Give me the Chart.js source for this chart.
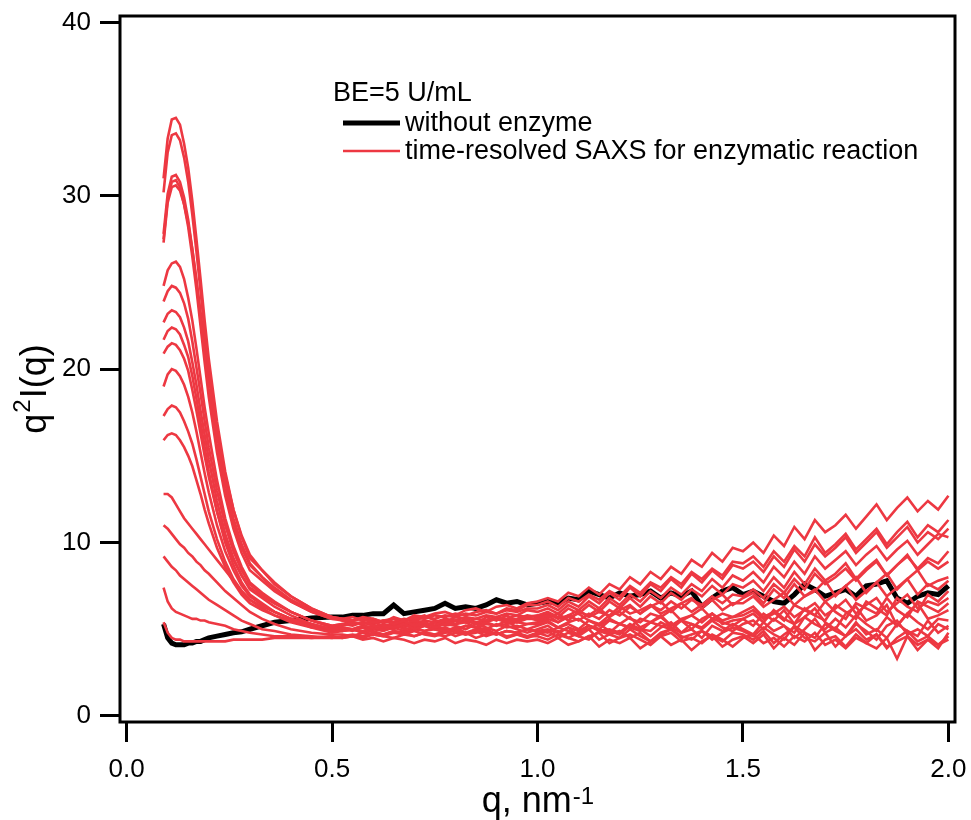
<!DOCTYPE html>
<html lang="en">

<head>
    <meta charset="UTF-8">
    <title>q2I(q) time-resolved SAXS</title>
    <script src="https://cdn.jsdelivr.net/npm/chart.js@4.4.1/dist/chart.umd.min.js"></script>
    <style>
        body {
            margin: 0;
            background: #fff;
        }
    </style>
</head>

<body>
    <canvas id="saxsChart" width="971" height="820"></canvas>
    <script>
        // q grid (nm^-1), dense around the peak
        const qValues = [0.09, 0.10, 0.11, 0.12, 0.13, 0.14, 0.15, 0.16, 0.17, 0.18, 0.19, 0.20, 0.22, 0.24, 0.26, 0.28, 0.30, 0.33, 0.36, 0.40, 0.45, 0.50,
            0.525, 0.55, 0.575, 0.6, 0.625, 0.65, 0.675, 0.7, 0.725, 0.75, 0.775, 0.8, 0.825, 0.85, 0.875, 0.9, 0.925, 0.95, 0.975, 1.0,
            1.025, 1.05, 1.075, 1.1, 1.125, 1.15, 1.175, 1.2, 1.225, 1.25, 1.275, 1.3, 1.325, 1.35, 1.375, 1.4, 1.425, 1.45, 1.475, 1.5,
            1.525, 1.55, 1.575, 1.6, 1.625, 1.65, 1.675, 1.7, 1.725, 1.75, 1.775, 1.8, 1.825, 1.85, 1.875, 1.9, 1.925, 1.95, 1.975, 2.0];

        // without enzyme
        const noEnzyme = [5.3, 4.5, 4.2, 4.1, 4.1, 4.1, 4.2, 4.2, 4.3, 4.3, 4.4, 4.5, 4.6, 4.7, 4.8, 4.85, 5.0, 5.2, 5.4, 5.5, 5.65, 5.7,
            5.7, 5.8, 5.8, 5.9, 5.9, 6.4, 5.9, 6.0, 6.1, 6.2, 6.5, 6.2, 6.3, 6.2, 6.4, 6.7, 6.5, 6.6, 6.4, 6.5,
            6.6, 6.5, 6.8, 6.7, 7.2, 7.0, 6.8, 7.1, 6.9, 7.0, 7.2, 6.8, 7.1, 6.9, 7.2, 6.3, 6.8, 7.2, 7.4, 7.0,
            7.2, 6.9, 6.6, 6.5, 7.0, 7.6, 7.3, 6.9, 7.1, 7.3, 6.9, 7.5, 7.6, 7.8, 6.8, 6.5, 6.9, 7.1, 7.0, 7.5];

        // time-resolved SAXS during the enzymatic reaction
        const t01 = [31.0, 33.3, 34.4, 34.5, 34.1, 33.0, 31.6, 29.7, 27.5, 25.2, 22.8, 20.6, 17.0, 14.1, 11.9, 10.3, 9.1, 8.4, 7.6, 6.9, 6.2, 5.7,
            5.6, 5.5, 5.6, 5.4, 5.5, 5.3, 5.5, 5.2, 5.4, 5.1, 5.3, 5.2, 5.0, 5.3, 5.1, 4.9, 5.2, 5.0, 4.8, 5.0,
            5.2, 4.8, 5.1, 4.6, 5.0, 5.3, 4.9, 4.7, 5.2, 5.0, 4.6, 5.1, 5.4, 4.8, 5.0, 4.5, 5.2, 4.9, 5.3, 5.0,
            4.7, 5.4, 4.9, 5.2, 4.5, 5.0, 5.6, 4.8, 5.1, 4.6, 5.3, 4.9, 4.4, 5.2, 5.5, 4.7, 5.0, 4.6, 5.3, 5.0];
        const t02 = [30.2, 32.5, 33.5, 33.6, 33.2, 32.2, 30.8, 28.9, 26.8, 24.5, 22.2, 20.0, 16.3, 13.5, 11.4, 9.9, 8.8, 8.0, 7.3, 6.6, 6.0, 5.6,
            5.5, 5.4, 5.3, 5.4, 5.2, 5.1, 5.3, 5.0, 5.2, 5.0, 4.9, 5.1, 4.8, 5.0, 4.9, 4.7, 4.9, 4.8, 4.6, 4.8,
            4.6, 4.9, 4.5, 4.8, 5.0, 4.4, 4.7, 4.9, 4.5, 4.8, 4.3, 4.7, 5.0, 4.6, 4.4, 4.9, 4.6, 4.3, 4.8, 4.7,
            4.4, 4.9, 4.2, 4.7, 5.1, 4.5, 4.3, 4.8, 4.0, 4.6, 5.0, 4.4, 4.7, 3.9, 4.5, 4.9, 4.3, 4.6, 4.1, 4.6];
        const t03 = [27.8, 30.1, 31.1, 31.2, 30.8, 29.9, 28.6, 26.9, 25.0, 22.9, 20.8, 18.9, 15.7, 13.1, 11.1, 9.7, 8.7, 8.0, 7.4, 6.7, 6.1, 5.7,
            5.6, 5.7, 5.5, 5.6, 5.4, 5.6, 5.3, 5.5, 5.4, 5.2, 5.5, 5.3, 5.4, 5.1, 5.4, 5.2, 5.5, 5.1, 5.3, 5.3,
            5.5, 5.1, 5.4, 5.6, 5.2, 5.0, 5.5, 5.3, 5.7, 5.1, 5.4, 5.8, 5.2, 5.5, 5.0, 5.6, 5.9, 5.3, 5.5, 5.6,
            5.2, 5.9, 5.5, 6.1, 5.3, 5.7, 6.2, 5.4, 5.0, 5.9, 6.3, 5.5, 5.8, 6.4, 5.2, 5.9, 6.5, 5.6, 5.8, 6.1];
        const t04 = [27.5, 29.8, 30.8, 30.9, 30.5, 29.5, 28.2, 26.5, 24.6, 22.5, 20.4, 18.4, 15.2, 12.7, 10.8, 9.4, 8.4, 7.8, 7.2, 6.6, 6.0, 5.6,
            5.6, 5.5, 5.7, 5.6, 5.4, 5.7, 5.5, 5.6, 5.8, 5.5, 5.4, 5.7, 5.6, 5.3, 5.7, 5.5, 5.8, 5.4, 5.6, 5.6,
            5.8, 5.4, 5.7, 5.9, 5.5, 5.3, 5.8, 6.0, 5.6, 5.4, 5.9, 5.7, 6.1, 5.5, 5.8, 6.2, 5.6, 5.9, 5.7, 6.0,
            6.3, 5.7, 6.0, 5.5, 6.4, 6.1, 5.8, 6.6, 6.0, 5.6, 6.5, 6.2, 5.9, 6.8, 6.1, 5.7, 6.6, 6.3, 6.0, 6.5];
        const t05 = [27.3, 29.6, 30.5, 30.6, 30.3, 29.5, 28.4, 26.9, 25.2, 23.3, 21.4, 19.6, 16.5, 13.9, 11.9, 10.4, 9.3, 8.4, 7.7, 6.9, 6.2, 5.7,
            5.5, 5.3, 5.4, 5.2, 5.1, 5.3, 5.0, 5.1, 4.9, 5.0, 4.8, 5.0, 4.7, 4.9, 4.6, 4.8, 4.5, 4.7, 4.6, 4.6,
            4.4, 4.7, 4.5, 4.3, 4.6, 4.8, 4.2, 4.5, 4.7, 4.4, 4.1, 4.6, 4.8, 4.3, 4.5, 4.2, 4.7, 4.4, 4.0, 4.5,
            4.7, 4.2, 4.5, 4.0, 4.6, 4.3, 4.8, 4.1, 4.4, 3.9, 4.5, 4.2, 4.7, 4.0, 4.3, 4.6, 3.8, 4.4, 4.1, 4.4];
        const t06 = [24.8, 25.7, 26.1, 26.2, 25.9, 25.2, 24.1, 22.8, 21.2, 19.5, 17.8, 16.3, 13.6, 11.4, 9.8, 8.6, 7.7, 7.1, 6.6, 6.0, 5.5, 5.2,
            5.3, 5.4, 5.3, 5.5, 5.4, 5.6, 5.5, 5.7, 5.6, 5.8, 5.7, 5.9, 5.8, 6.0, 6.1, 5.9, 6.2, 6.1, 6.4, 6.4,
            6.6, 6.3, 6.8, 6.6, 7.0, 6.7, 7.2, 6.9, 7.5, 7.1, 7.7, 7.4, 8.0, 7.6, 8.3, 7.9, 8.5, 8.1, 8.9, 8.8,
            9.2, 8.6, 9.5, 8.9, 9.8, 9.2, 10.3, 9.4, 9.9, 10.5, 9.6, 10.2, 10.8, 9.9, 10.6, 11.2, 10.3, 11.0, 10.6, 11.3];
        const t07 = [23.9, 24.5, 24.8, 24.7, 24.4, 23.8, 22.9, 21.6, 20.1, 18.6, 17.0, 15.5, 13.0, 11.0, 9.5, 8.4, 7.6, 7.0, 6.5, 6.0, 5.5, 5.1,
            5.2, 5.3, 5.4, 5.3, 5.5, 5.6, 5.5, 5.8, 5.7, 5.9, 6.0, 5.8, 6.1, 6.2, 6.0, 6.3, 6.4, 6.2, 6.5, 6.6,
            6.8, 6.6, 7.1, 6.9, 7.4, 7.0, 7.6, 7.3, 8.0, 7.6, 8.3, 7.9, 8.6, 8.2, 9.0, 8.6, 9.4, 8.9, 9.7, 9.5,
            10.0, 9.4, 10.4, 9.8, 10.9, 10.2, 11.3, 10.6, 11.0, 11.6, 10.8, 11.5, 12.2, 11.3, 12.0, 12.6, 11.8, 12.4, 11.9, 12.7];
        const t08 = [22.7, 23.2, 23.4, 23.3, 23.0, 22.4, 21.6, 20.4, 19.1, 17.6, 16.2, 14.8, 12.4, 10.5, 9.1, 8.1, 7.3, 6.8, 6.3, 5.8, 5.3, 5.0,
            5.1, 5.0, 5.2, 5.1, 5.3, 5.2, 5.4, 5.3, 5.5, 5.4, 5.6, 5.5, 5.7, 5.6, 5.8, 5.7, 5.9, 5.8, 6.1, 6.0,
            6.2, 5.9, 6.4, 6.1, 6.6, 6.2, 6.8, 6.4, 7.0, 6.6, 7.2, 6.8, 7.4, 7.0, 7.6, 7.2, 7.9, 7.4, 8.1, 7.8,
            8.3, 7.7, 8.6, 8.0, 8.9, 8.2, 9.2, 8.5, 9.0, 9.5, 8.7, 9.3, 9.8, 9.0, 9.6, 10.1, 9.3, 9.9, 10.5, 10.3];
        const t09 = [21.7, 22.2, 22.4, 22.3, 22.0, 21.4, 20.7, 19.6, 18.3, 16.9, 15.5, 14.1, 11.8, 10.0, 8.7, 7.7, 7.0, 6.5, 6.0, 5.6, 5.1, 4.8,
            4.9, 5.0, 4.9, 5.1, 5.0, 5.2, 5.1, 5.3, 5.2, 5.4, 5.3, 5.5, 5.4, 5.6, 5.5, 5.7, 5.6, 5.8, 5.7, 5.8,
            6.0, 5.7, 6.2, 5.9, 6.4, 6.0, 6.6, 6.2, 6.8, 6.3, 6.9, 6.5, 7.1, 6.7, 7.3, 6.9, 7.5, 7.0, 7.6, 7.4,
            7.8, 7.2, 8.0, 7.4, 8.3, 7.6, 8.5, 7.8, 8.2, 8.8, 7.9, 8.5, 9.0, 8.1, 8.7, 9.3, 8.4, 8.9, 8.5, 8.9];
        const t10 = [20.9, 21.3, 21.5, 21.4, 21.1, 20.6, 19.9, 18.8, 17.6, 16.3, 15.0, 13.8, 11.8, 10.2, 9.0, 8.1, 7.4, 6.9, 6.5, 6.0, 5.5, 5.2,
            5.3, 5.2, 5.4, 5.3, 5.5, 5.4, 5.6, 5.5, 5.7, 5.6, 5.8, 5.7, 5.9, 5.8, 6.0, 5.9, 6.1, 6.0, 6.2, 6.2,
            6.4, 6.1, 6.6, 6.3, 6.9, 6.5, 7.1, 6.7, 7.4, 6.9, 7.6, 7.2, 7.9, 7.4, 8.2, 7.7, 8.4, 7.9, 8.7, 8.5,
            8.9, 8.3, 9.2, 8.6, 9.6, 8.9, 9.9, 9.2, 9.7, 10.3, 9.4, 10.0, 10.6, 9.7, 10.3, 10.9, 10.0, 10.6, 10.2, 10.8];
        const t11 = [19.0, 19.7, 20.0, 19.9, 19.6, 19.1, 18.4, 17.5, 16.4, 15.2, 14.0, 12.9, 11.0, 9.5, 8.4, 7.5, 6.9, 6.4, 6.0, 5.6, 5.2, 4.9,
            5.0, 4.9, 5.1, 5.0, 5.2, 5.0, 5.3, 5.1, 5.2, 5.4, 5.2, 5.3, 5.5, 5.3, 5.4, 5.6, 5.4, 5.5, 5.7, 5.5,
            5.7, 5.9, 5.5, 6.0, 5.8, 6.2, 5.7, 6.1, 6.4, 5.9, 6.3, 6.6, 6.0, 6.5, 6.8, 6.2, 6.7, 7.0, 6.4, 6.8,
            7.1, 6.5, 7.3, 6.8, 7.6, 6.9, 7.2, 7.8, 6.9, 7.5, 8.0, 7.1, 7.7, 8.2, 7.3, 7.9, 8.4, 7.5, 7.8, 8.0];
        const t12 = [17.3, 17.7, 17.9, 17.8, 17.5, 17.0, 16.4, 15.7, 14.8, 13.8, 12.8, 11.8, 10.2, 8.9, 7.9, 7.2, 6.7, 6.3, 6.0, 5.6, 5.3, 5.0,
            5.1, 5.0, 5.2, 5.1, 5.0, 5.3, 5.2, 5.4, 5.3, 5.2, 5.5, 5.3, 5.6, 5.4, 5.5, 5.7, 5.5, 5.6, 5.8, 5.7,
            5.9, 5.6, 5.8, 6.1, 5.7, 6.0, 5.8, 6.3, 5.9, 6.1, 6.4, 5.9, 6.2, 6.5, 6.0, 6.4, 6.7, 6.1, 6.5, 6.5,
            6.9, 6.3, 6.7, 7.1, 6.4, 6.9, 7.3, 6.6, 7.0, 7.5, 6.7, 7.2, 7.7, 6.9, 7.4, 7.9, 7.0, 7.6, 7.3, 7.8];
        const t13 = [15.9, 16.2, 16.3, 16.2, 15.9, 15.5, 15.0, 14.4, 13.6, 12.8, 11.9, 11.1, 9.7, 8.6, 7.7, 7.0, 6.5, 6.1, 5.8, 5.5, 5.2, 4.9,
            4.9, 5.0, 4.8, 5.0, 4.9, 5.1, 4.9, 5.0, 5.2, 5.0, 5.1, 4.9, 5.2, 5.1, 5.0, 5.3, 5.1, 5.2, 5.0, 5.2,
            5.4, 5.1, 5.3, 5.0, 5.5, 5.2, 5.6, 5.3, 5.1, 5.6, 5.4, 5.7, 5.2, 5.6, 5.8, 5.4, 5.9, 5.5, 5.7, 5.8,
            6.1, 5.6, 5.9, 6.3, 5.7, 6.1, 6.5, 5.8, 6.2, 6.7, 5.9, 6.4, 6.8, 6.0, 6.5, 7.0, 6.2, 6.6, 6.4, 6.8];
        const t14 = [12.8, 12.8, 12.6, 12.2, 11.8, 11.4, 11.1, 10.8, 10.5, 10.2, 9.9, 9.6, 9.0, 8.4, 7.8, 7.2, 6.7, 6.2, 5.8, 5.4, 5.1, 5.0,
            4.9, 5.0, 4.8, 4.9, 4.7, 4.9, 4.8, 4.6, 4.8, 4.7, 4.9, 4.6, 4.8, 4.5, 4.7, 4.8, 4.6, 4.7, 4.5, 4.7,
            4.9, 4.5, 4.8, 4.6, 4.4, 4.9, 4.7, 4.5, 5.0, 4.6, 4.3, 4.8, 5.0, 4.5, 4.7, 4.9, 4.4, 4.8, 5.1, 4.9,
            4.6, 5.1, 4.7, 4.4, 5.2, 4.8, 4.5, 5.3, 4.9, 4.6, 5.4, 4.7, 5.0, 4.5, 5.3, 4.9, 4.6, 5.5, 4.8, 5.2];
        const t15 = [11.0, 10.8, 10.5, 10.2, 9.9, 9.7, 9.4, 9.2, 8.9, 8.7, 8.4, 8.2, 7.7, 7.2, 6.8, 6.4, 6.0, 5.6, 5.3, 5.0, 4.8, 4.7,
            4.7, 4.6, 4.8, 4.7, 4.6, 4.8, 4.7, 4.9, 4.7, 4.6, 4.8, 4.9, 4.7, 4.8, 5.0, 4.7, 4.9, 4.8, 5.0, 4.9,
            4.8, 5.1, 4.9, 4.7, 5.2, 4.9, 5.0, 4.8, 5.3, 5.0, 4.9, 5.4, 5.1, 4.8, 5.3, 5.0, 5.5, 5.1, 4.9, 5.3,
            5.5, 5.0, 5.6, 5.2, 4.8, 5.7, 5.3, 5.0, 5.6, 5.1, 5.8, 5.3, 4.9, 5.7, 5.2, 5.9, 5.4, 5.0, 5.6, 5.5];
        const t16 = [9.2, 8.9, 8.6, 8.4, 8.1, 7.9, 7.7, 7.5, 7.3, 7.1, 6.9, 6.7, 6.4, 6.1, 5.8, 5.5, 5.3, 5.0, 4.9, 4.7, 4.6, 4.5,
            4.6, 4.7, 4.6, 4.8, 4.7, 4.9, 4.8, 5.0, 4.9, 5.1, 5.0, 5.0, 5.2, 5.1, 5.3, 5.2, 5.3, 5.4, 5.3, 5.4,
            5.6, 5.4, 5.8, 5.5, 5.9, 5.6, 6.1, 5.8, 6.3, 5.9, 6.4, 6.1, 6.6, 6.2, 6.7, 6.4, 6.9, 6.5, 7.0, 6.9,
            7.3, 6.8, 7.6, 7.1, 7.9, 7.3, 8.2, 7.6, 8.0, 8.5, 7.8, 8.4, 8.9, 8.1, 8.7, 9.2, 8.5, 9.1, 8.8, 9.5];
        const t17 = [7.4, 6.6, 6.2, 6.0, 5.9, 5.8, 5.7, 5.6, 5.6, 5.5, 5.5, 5.4, 5.3, 5.2, 5.0, 4.9, 4.8, 4.7, 4.6, 4.6, 4.5, 4.5,
            4.5, 4.6, 4.5, 4.7, 4.6, 4.5, 4.7, 4.6, 4.8, 4.7, 4.6, 4.8, 4.7, 4.9, 4.8, 4.7, 4.9, 4.8, 5.0, 4.9,
            5.0, 4.8, 5.1, 4.9, 5.2, 5.0, 4.8, 5.3, 5.1, 4.9, 5.4, 5.2, 5.0, 5.5, 5.3, 5.1, 5.6, 5.4, 5.2, 5.6,
            5.9, 5.4, 6.1, 5.6, 5.3, 6.2, 5.8, 5.5, 6.4, 6.0, 5.6, 6.6, 6.2, 5.8, 6.8, 6.3, 6.0, 7.0, 6.6, 7.2];
        const t18 = [5.4, 4.8, 4.5, 4.4, 4.4, 4.3, 4.3, 4.3, 4.3, 4.3, 4.3, 4.3, 4.3, 4.3, 4.4, 4.4, 4.4, 4.4, 4.5, 4.5, 4.5, 4.6,
            4.5, 4.6, 4.4, 4.5, 4.3, 4.5, 4.4, 4.2, 4.4, 4.3, 4.5, 4.2, 4.4, 4.3, 4.1, 4.4, 4.2, 4.4, 4.3, 4.4,
            4.2, 4.5, 4.1, 4.3, 4.6, 4.0, 4.4, 4.2, 4.5, 3.9, 4.3, 4.6, 4.1, 4.4, 3.8, 4.3, 4.6, 4.0, 4.4, 4.6,
            4.2, 4.7, 3.9, 4.5, 4.1, 4.8, 3.8, 4.4, 4.6, 4.0, 4.7, 4.2, 3.9, 4.5, 3.3, 4.6, 4.1, 4.4, 3.9, 4.8];

        const reactionSeries = [t01, t02, t03, t04, t05, t06, t07, t08, t09, t10, t11, t12, t13, t14, t15, t16, t17, t18];

        const xTicks = [0.0, 0.5, 1.0, 1.5, 2.0];
        const yTicks = [0, 10, 20, 30, 40];

        const RED = 'rgb(237, 56, 66)';
        const FONT = '"Liberation Sans", Arial, sans-serif';

        const toPoints = values => values.map((v, i) => ({ x: qValues[i], y: v }));

        // red series first in the list draw on top of the black one
        const datasets = reactionSeries.map((s, i) => ({
            label: i === 0 ? 'time-resolved SAXS for enzymatic reaction' : '',
            data: toPoints(s),
            borderColor: RED,
            borderWidth: 2.6,
            pointRadius: 0,
            tension: 0
        }));
        datasets.push({
            label: 'without enzyme',
            data: toPoints(noEnzyme),
            borderColor: '#000',
            borderWidth: 5,
            pointRadius: 0,
            tension: 0
        });

        // frame, axis titles and the in-plot legend
        const decorations = {
            id: 'decorations',
            afterDraw(chart) {
                const { ctx, chartArea: a } = chart;
                ctx.save();
                ctx.strokeStyle = '#000';
                ctx.lineWidth = 3;
                ctx.strokeRect(a.left, a.top, a.right - a.left, a.bottom - a.top);

                ctx.fillStyle = '#000';
                ctx.textBaseline = 'alphabetic';

                // x title: q, nm^-1
                const big = '36px ' + FONT, small = '24px ' + FONT;
                ctx.font = big;
                const w1 = ctx.measureText('q, nm').width;
                ctx.font = small;
                const w2 = ctx.measureText('-1').width;
                let x0 = (a.left + a.right) / 2 - (w1 + w2) / 2;
                ctx.font = big;
                ctx.fillText('q, nm', x0, 812);
                ctx.font = small;
                ctx.fillText('-1', x0 + w1 + 1, 804);

                // y title: q^2 I(q)
                ctx.save();
                ctx.translate(46, 390);
                ctx.rotate(-Math.PI / 2);
                ctx.font = big;
                const wq = ctx.measureText('q').width;
                const wi = ctx.measureText('I(q)').width;
                ctx.font = small;
                const w2s = ctx.measureText('2').width;
                let s = -(wq + w2s + wi) / 2;
                ctx.font = big;
                ctx.fillText('q', s, 0);
                ctx.font = small;
                ctx.fillText('2', s + wq + 1, -16);
                ctx.font = big;
                ctx.fillText('I(q)', s + wq + w2s + 2, 0);
                ctx.restore();

                // legend
                ctx.font = '27px ' + FONT;
                ctx.textBaseline = 'middle';
                ctx.fillText('BE=5 U/mL', 333, 94);
                ctx.lineCap = 'butt';
                ctx.strokeStyle = '#000';
                ctx.lineWidth = 5;
                ctx.beginPath();
                ctx.moveTo(343, 123);
                ctx.lineTo(400, 123);
                ctx.stroke();
                ctx.fillText('without enzyme', 405, 124);
                ctx.strokeStyle = RED;
                ctx.lineWidth = 2.6;
                ctx.beginPath();
                ctx.moveTo(343, 151);
                ctx.lineTo(400, 151);
                ctx.stroke();
                ctx.fillText('time-resolved SAXS for enzymatic reaction', 405, 152);
                ctx.restore();
            }
        };

        const axisCommon = {
            type: 'linear',
            border: { display: false },
            grid: {
                drawOnChartArea: false,
                drawTicks: true,
                tickLength: 20,
                tickWidth: 3,
                tickColor: '#000'
            }
        };

        // fixed axis box sizes, and no extra room for labels hanging past the ends
        const fixSize = (prop, size) => scale => {
            scale[prop] = size;
            scale.paddingLeft = 0;
            scale.paddingRight = 0;
            scale.paddingTop = 0;
            scale.paddingBottom = 0;
        };

        const config = {
            type: 'line',
            data: { datasets },
            options: {
                responsive: false,
                animation: false,
                devicePixelRatio: 1,
                layout: { padding: { left: 0, top: 16, right: 16, bottom: 0 } },
                plugins: {
                    legend: { display: false },
                    tooltip: { enabled: false }
                },
                scales: {
                    x: {
                        ...axisCommon,
                        min: -0.016,
                        max: 2.016,
                        afterFit: fixSize('height', 98),
                        afterBuildTicks: scale => { scale.ticks = xTicks.map(v => ({ value: v })); },
                        ticks: {
                            color: '#000',
                            font: { family: FONT, size: 26 },
                            padding: 12,
                            maxRotation: 0,
                            callback: v => Number(v).toFixed(1)
                        }
                    },
                    y: {
                        ...axisCommon,
                        min: -0.35,
                        max: 40.37,
                        afterFit: fixSize('width', 120),
                        afterBuildTicks: scale => { scale.ticks = yTicks.map(v => ({ value: v })); },
                        ticks: {
                            color: '#000',
                            font: { family: FONT, size: 26 },
                            padding: 9,
                            callback: v => String(v)
                        }
                    }
                }
            },
            plugins: [decorations]
        };

        const ctx = document.getElementById('saxsChart').getContext('2d');
        const saxsChart = new Chart(ctx, config);
    </script>
</body>

</html>
